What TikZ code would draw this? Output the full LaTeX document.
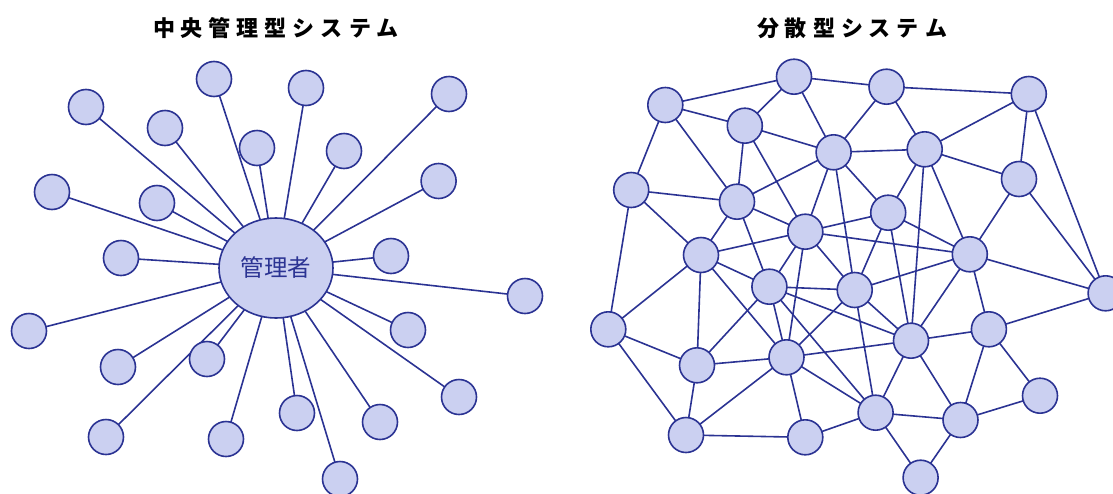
\documentclass[tikz,border=0pt]{standalone}
\usepackage{fontspec}
\newfontfamily\cjk{Noto Sans CJK JP}
\usetikzlibrary{shapes.geometric}
\definecolor{nodefill}{HTML}{CBD0F1}
\definecolor{edgec}{HTML}{2B3393}
\pgfdeclarelayer{bg}
\pgfsetlayers{bg,main}
\newcommand{\spaced}[1]{\def\sep{}\spacedloop#1\relax}
\def\spacedloop#1{\ifx#1\relax\else\sep#1\def\sep{\hspace{6pt}}\expandafter\spacedloop\fi}
\begin{document}
\begin{tikzpicture}[x=1pt,y=-1pt,
  nd/.style={circle,draw=edgec,fill=nodefill,line width=1.6pt,minimum size=35pt,inner sep=0pt},
  hub/.style={ellipse,draw=edgec,fill=nodefill,line width=1.6pt,minimum width=114pt,minimum height=100pt,inner sep=0pt,
    font=\cjk\fontsize{23.5pt}{25pt}\selectfont,text=edgec},
  ln/.style={draw=edgec,line width=1.6pt},
  ttl/.style={font=\cjk\bfseries\fontsize{22pt}{24pt}\selectfont,text=black}]
\useasboundingbox (0,0) rectangle (1113,493);
\node[ttl] (t1) at (276,28) {\spaced{中央管理型システム}};
\node[ttl] (t2) at (852,28) {\spaced{分散型システム}};
% central system
\node[hub] (hub) at (276,268) {管理者};
\foreach \n/\x/\y in {1/86/107,2/214/79,3/306/88,4/449/94,5/165/128,6/257/148,7/344/151,8/52/192,
  9/157/203,10/438.6/181,11/121/258,12/391/256,13/525/296,14/29/331,15/408/330,16/118/367,
  17/207/359,18/459/397,19/106/437,20/226/439,21/297/413,22/380/422,23/340/479}{
  \node[nd] (c\n) at (\x,\y) {};
  \begin{pgfonlayer}{bg}\draw[ln] (hub.center) -- (c\n.center);\end{pgfonlayer}
}
% distributed system
\foreach \n/\x/\y in {A/665.3/105,B/794/76.7,C/886.5/86.7,D/1028.8/94,E/744.8/125.7,F/833.6/152.3,
  G/924.7/149.3,H/1019/179,I/631.2/190,J/737/201.7,K/888.2/212.7,L/805.3/231.7,M/701/255,
  N/969.8/254.3,O/1105.6/293.3,P/769.4/286.7,Q/854.7/290,R/608.3/329.3,S/911/340.7,T/988.9/329.3,
  U/697/365.3,V/786.5/357.3,W/1040/395.7,X/875.6/412.7,Y/960.5/420,Z/686/435,AA/805.3/437.3,BB/920.6/477.7}{
  \node[nd] (d\n) at (\x,\y) {};
}
\begin{pgfonlayer}{bg}
\foreach \a/\b in {A/B,B/C,C/D,A/E,B/E,B/F,C/F,C/G,D/G,D/H,D/O,A/I,A/J,E/F,E/J,E/L,F/G,F/J,F/L,F/K,F/Q,
  G/H,G/K,G/N,G/S,H/N,H/O,I/J,I/M,I/R,J/L,J/M,J/P,K/L,K/N,K/Q,K/S,L/N,L/M,L/P,L/V,L/Q,N/O,N/T,N/S,N/Q,
  M/R,M/U,M/P,M/V,P/X,P/S,P/Q,P/U,P/V,Q/V,Q/X,Q/S,V/S,V/U,V/Z,V/AA,V/X,R/U,R/Z,U/Z,Z/AA,AA/X,X/S,X/Y,
  X/BB,Y/BB,Y/T,Y/S,S/T,T/O,T/W,W/Y}{
  \draw[ln] (d\a.center) -- (d\b.center);
}
\end{pgfonlayer}
\end{tikzpicture}
\end{document}
